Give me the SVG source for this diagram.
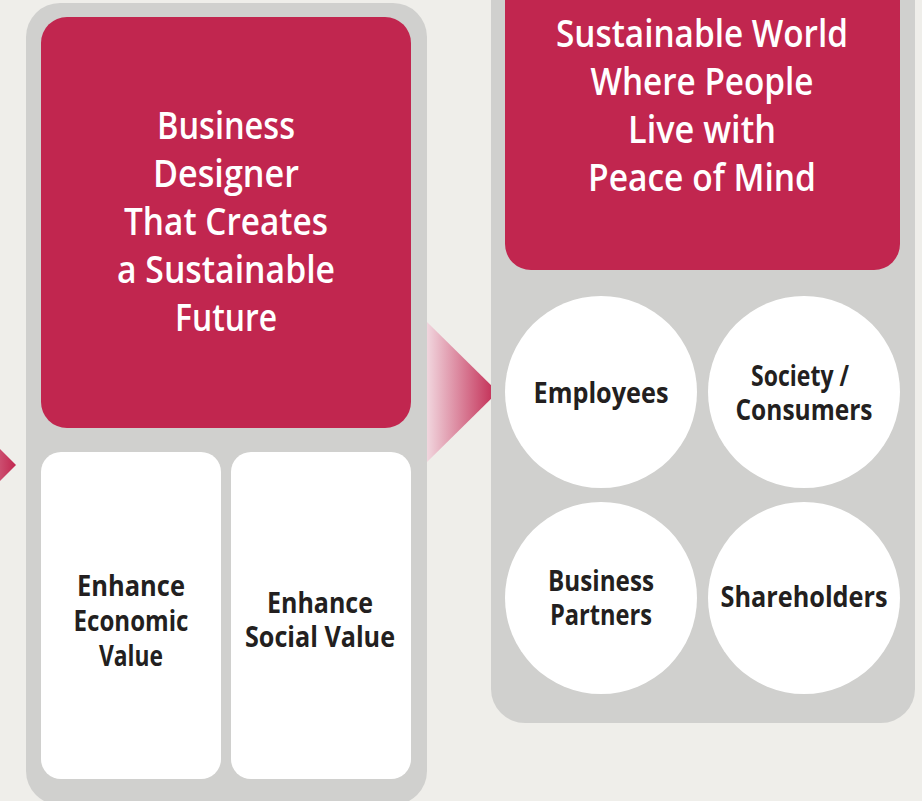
<svg xmlns="http://www.w3.org/2000/svg" width="922" height="801" viewBox="0 0 922 801">
<defs>
<linearGradient id="arrowGrad" x1="0" y1="0" x2="1" y2="0">
<stop offset="0" stop-color="#f1d6de"/>
<stop offset="1" stop-color="#c1264f"/>
</linearGradient>
<style>
.bg{fill:#efeeea}
.panel{fill:#d0d0ce}
.red{fill:#c1264f}
.white{fill:#ffffff}
.wt{font-family:"Open Sans","Liberation Sans",sans-serif;font-weight:600;font-size:37px;fill:#ffffff;text-anchor:middle}
.dt{font-family:"Open Sans","Liberation Sans",sans-serif;font-weight:700;font-size:28px;fill:#231f20;text-anchor:middle}
</style>
</defs>
<rect class="bg" x="0" y="0" width="922" height="801"/>

<g id="connectors">
<polygon points="-55,394 16,465 -55,536" fill="url(#arrowGrad)"/>
<polygon points="427,322 498,392 427,462" fill="url(#arrowGrad)"/>
</g>

<g id="left-panel">
<rect class="panel" x="26" y="3" width="401" height="802" rx="34"/>
</g>

<g id="business-designer">
<rect class="red" x="41" y="17" width="370" height="411" rx="26"/>
<text class="wt" x="226" y="139" textLength="138" lengthAdjust="spacingAndGlyphs">Business</text>
<text class="wt" x="226" y="187" textLength="146" lengthAdjust="spacingAndGlyphs">Designer</text>
<text class="wt" x="226" y="235" textLength="204" lengthAdjust="spacingAndGlyphs">That Creates</text>
<text class="wt" x="226" y="283" textLength="218" lengthAdjust="spacingAndGlyphs">a Sustainable</text>
<text class="wt" x="226" y="331" textLength="102" lengthAdjust="spacingAndGlyphs">Future</text>
</g>

<g id="economic-value">
<rect class="white" x="41" y="452" width="180" height="327" rx="20"/>
<text class="dt" x="131" y="596" textLength="108" lengthAdjust="spacingAndGlyphs">Enhance</text>
<text class="dt" x="131" y="631" textLength="115" lengthAdjust="spacingAndGlyphs">Economic</text>
<text class="dt" x="131" y="666" textLength="64" lengthAdjust="spacingAndGlyphs">Value</text>
</g>

<g id="social-value">
<rect class="white" x="231" y="452" width="180" height="327" rx="20"/>
<text class="dt" x="320" y="613" textLength="106" lengthAdjust="spacingAndGlyphs">Enhance</text>
<text class="dt" x="320" y="647" textLength="150" lengthAdjust="spacingAndGlyphs">Social Value</text>
</g>

<g id="right-panel">
<rect class="panel" x="491" y="-60" width="424" height="783" rx="34"/>
</g>

<g id="sustainable-world">
<rect class="red" x="505" y="-60" width="395" height="330" rx="26"/>
<text class="wt" x="702" y="47" textLength="292" lengthAdjust="spacingAndGlyphs">Sustainable World</text>
<text class="wt" x="702" y="95" textLength="223" lengthAdjust="spacingAndGlyphs">Where People</text>
<text class="wt" x="702" y="143" textLength="148" lengthAdjust="spacingAndGlyphs">Live with</text>
<text class="wt" x="702" y="191" textLength="228" lengthAdjust="spacingAndGlyphs">Peace of Mind</text>
</g>

<g id="employees">
<circle class="white" cx="601" cy="392" r="96"/>
<text class="dt" x="601" y="403" textLength="135" lengthAdjust="spacingAndGlyphs">Employees</text>
</g>

<g id="society-consumers">
<circle class="white" cx="804" cy="392" r="96"/>
<text class="dt" x="800" y="386" textLength="98" lengthAdjust="spacingAndGlyphs">Society /</text>
<text class="dt" x="804" y="420" textLength="137" lengthAdjust="spacingAndGlyphs">Consumers</text>
</g>

<g id="business-partners">
<circle class="white" cx="601" cy="598" r="96"/>
<text class="dt" x="601" y="591" textLength="106" lengthAdjust="spacingAndGlyphs">Business</text>
<text class="dt" x="601" y="625" textLength="102" lengthAdjust="spacingAndGlyphs">Partners</text>
</g>

<g id="shareholders">
<circle class="white" cx="804" cy="598" r="96"/>
<text class="dt" x="804" y="607" textLength="167" lengthAdjust="spacingAndGlyphs">Shareholders</text>
</g>
</svg>
